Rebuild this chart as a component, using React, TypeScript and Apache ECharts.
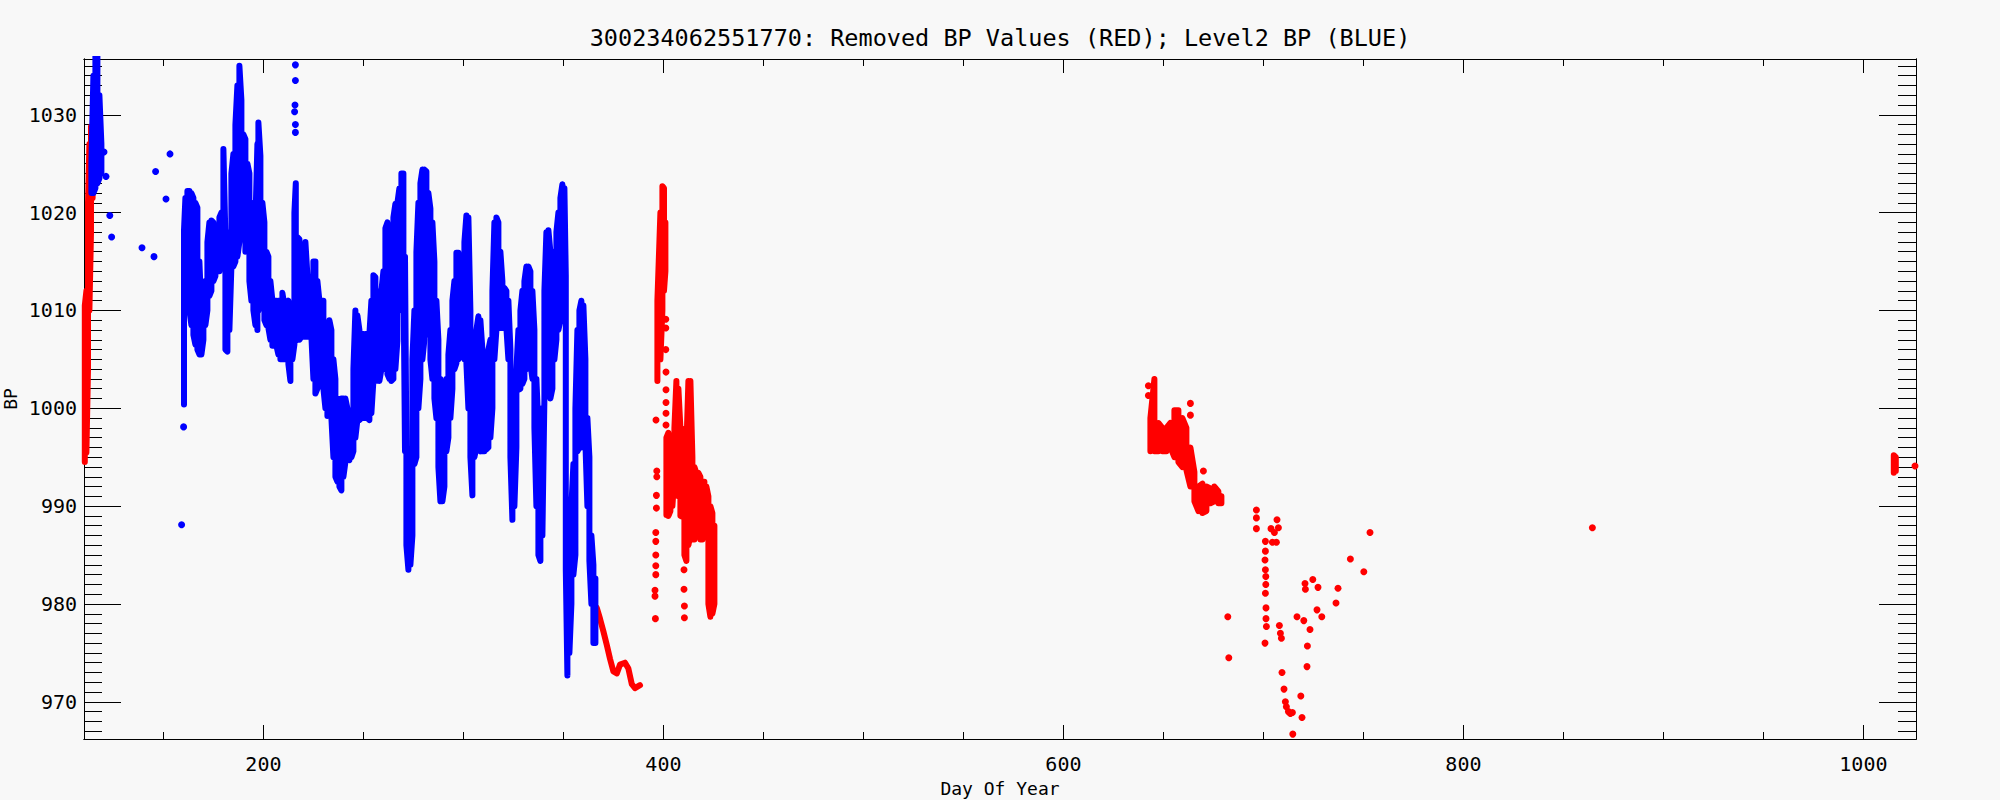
import React, { useEffect, useRef } from "react";
import * as echarts from "echarts";

// ---------- axis ranges & ticks ----------
const X_MIN = 110.3;
const X_MAX = 1026.3;
const Y_MIN = 966.2;
const Y_MAX = 1035.7;
const xMajorTicks = [200, 400, 600, 800, 1000];
const xMinorTicks = [150, 200, 250, 300, 350, 400, 450, 500, 550, 600, 650, 700, 750, 800, 850, 900, 950, 1000];
const yMajorTicks = [970, 980, 990, 1000, 1010, 1020, 1030];
const yMinorTicks = Array.from({ length: 69 }, (_, i) => 967 + i);

const TITLE = "300234062551770: Removed BP Values (RED); Level2 BP (BLUE)";
const X_NAME = "Day Of Year";
const Y_NAME = "BP";

// ---------- data: dense streaks as [day, low BP, high BP] columns ----------
const blueStreakA = [
  [114.0, 1022.0, 1025.0], [115.0, 1022.0, 1034.0], [116.0, 1022.5, 1036.5],
  [117.0, 1023.0, 1036.5], [118.0, 1023.5, 1032.0], [119.0, 1024.0, 1027.0],
];
const blueStreakB = [
  [160.3, 1000.4, 1018.2], [161.0, 1012, 1021.5], [162.0, 1011, 1022.2], [163.0, 1010, 1022.2],
  [164.0, 1008.5, 1022], [165.0, 1007.5, 1021.5], [166.0, 1006.5, 1021], [167.0, 1006, 1020.5],
  [168.0, 1005.5, 1015], [169.0, 1005.5, 1010], [170.0, 1007, 1011], [171.0, 1008.5, 1013],
  [172.0, 1010, 1017], [173.0, 1011.5, 1019], [174.0, 1012, 1019.2], [175.0, 1013, 1019],
  [176.0, 1013.5, 1018.5], [177.0, 1014, 1018], [178.0, 1014, 1019.5], [179.0, 1014.5, 1020],
  [180.0, 1015, 1026.5], [181.0, 1006, 1017.5], [182.0, 1005.8, 1017], [183.0, 1008, 1018],
  [184.0, 1014.5, 1024], [185.0, 1014.5, 1026], [186.0, 1015, 1029], [187.0, 1015.5, 1033],
  [188.0, 1017, 1035], [189.0, 1021, 1031.5], [190.0, 1020, 1028], [191.0, 1016, 1027.5],
  [192.0, 1017, 1025], [193.0, 1013, 1024], [194.0, 1011, 1021], [195.0, 1010, 1019],
  [196.0, 1008.5, 1019], [197.0, 1008, 1027],
];
const blueStreakC = [
  [197.5, 1010, 1029.2], [198.5, 1011, 1025.8], [199.5, 1011, 1021], [200.5, 1009, 1019],
  [201.5, 1008.5, 1016], [202.5, 1008.2, 1015.5], [203.5, 1007, 1013], [204.5, 1006.4, 1011],
  [205.5, 1006.4, 1011], [206.5, 1006.4, 1011], [207.5, 1005.5, 1011], [208.5, 1005, 1011],
  [209.5, 1005, 1011.8], [210.5, 1005, 1010.5], [211.5, 1005.5, 1010.5], [212.5, 1004.5, 1011],
  [213.5, 1002.8, 1010], [214.5, 1005, 1009], [215.5, 1006.5, 1020], [216.2, 1006.9, 1023],
  [217, 1007, 1017.5], [218, 1007, 1017.3], [219, 1007.3, 1015], [220, 1007.3, 1014],
  [221, 1007.3, 1017], [222, 1007.3, 1013.6], [223, 1007.3, 1013.5], [224, 1007.3, 1013],
  [225, 1003, 1015], [226, 1001.5, 1015], [227, 1002, 1013], [228, 1004.6, 1011],
  [229, 1004, 1011], [230, 1002, 1011], [231, 1000, 1008], [232, 999.2, 1007],
  [233, 1000, 1009], [234, 999, 1008], [235, 995, 1005], [236, 993, 1003],
  [237, 992.5, 1001], [238, 992, 1000], [239, 991.6, 1001], [240, 993, 1001],
  [241, 994.5, 1001], [242, 995, 1000], [243, 994.7, 999.5], [244, 995, 999],
  [245, 995.6, 1004], [246, 997, 1010], [247, 998.8, 1009.5], [248, 998.8, 1008],
  [249, 999, 1007.6], [250, 999, 1007.6], [251, 999, 1007.6], [252, 999, 1007.6],
  [253, 998.8, 1007.6], [254, 999.5, 1011], [255, 1002.8, 1013.6], [256, 1002.8, 1013.4],
  [257, 1003, 1012], [258, 1002.8, 1011.5], [259, 1004, 1012], [260, 1004.6, 1014],
  [261, 1004, 1018.4], [262, 1003.5, 1019], [263, 1003, 1018.5], [264, 1002.8, 1017.5],
  [265, 1003, 1019.5], [266, 1004, 1020.9], [267, 1006.9, 1021], [268, 1010, 1022.5],
  [269, 1013, 1024], [270, 1014.5, 1024], [270.8, 995.6, 1015.5], [271.5, 986, 996],
  [272.5, 983.5, 994], [273.5, 984, 993], [274.5, 987, 1005], [275.5, 994.3, 1010],
  [276.5, 995, 1016], [277.5, 1000, 1021], [278.5, 1003, 1023], [279.5, 1005, 1024.4],
  [280.5, 1007, 1024.4], [281.5, 1007.8, 1024.2],
];
const blueStreakD = [
  [282.5, 1007.5, 1022], [283.5, 1005, 1020.4], [284.5, 1003, 1019], [285.5, 1001, 1015],
  [286.5, 999, 1011], [287.5, 994, 1007], [288.5, 990.5, 1003], [289.5, 990.5, 1000],
  [290.5, 992, 998], [291.5, 995.6, 1003], [292.5, 997, 1005.5], [293.5, 999, 1008],
  [294.5, 1002, 1011], [295.5, 1004, 1013], [296.5, 1004.6, 1015.9], [297.5, 1005, 1015.9],
  [298.5, 1005.5, 1013], [299.5, 1005.5, 1012.7], [300.5, 1005, 1017], [301.5, 1004.6, 1019.7],
  [302.5, 1000, 1019.5], [303.5, 995, 1010], [304.5, 991.1, 1003], [305.5, 995, 1006],
  [306.5, 996, 1008], [307.5, 996, 1009.4], [308.5, 995.6, 1009], [309.5, 995.6, 1006],
  [310.5, 995.6, 1004], [311.5, 995.8, 1005], [312.5, 996, 1006], [313.5, 997, 1007],
  [314.5, 1000, 1012], [315.5, 1005, 1019], [316.5, 1008, 1019.5], [317.5, 1008.2, 1019],
  [318.5, 1008.2, 1016], [319.5, 1008.2, 1013], [320.5, 1008.2, 1012.3], [321.5, 1008.2, 1012],
  [322.5, 1005, 1011], [323.5, 995, 1006], [324.5, 988.6, 1002], [325.5, 990, 1002],
  [326.5, 996, 1004], [327.5, 1001.9, 1008], [328.5, 1002, 1010], [329.5, 1002.5, 1012],
  [330.5, 1003, 1013], [331.5, 1004, 1014.5], [332.5, 1004.6, 1014.5], [333.5, 1004.6, 1014],
  [334.5, 1003, 1012], [335.5, 998, 1008], [336.5, 990, 1003], [337.5, 985, 998],
  [338.5, 984.4, 995], [339.5, 987, 1000], [340.5, 1001, 1012], [341.5, 1002, 1018],
  [342.5, 1002, 1018.2], [343.5, 1001, 1016], [344.5, 1002, 1012], [345.5, 1005, 1016],
  [346.5, 1007, 1018], [347.5, 1008, 1020], [348.5, 1009, 1021.5], [349.5, 1009.1, 1022.9],
  [350.5, 1009.1, 1022.5], [351.2, 983.5, 1013.6], [352, 972.7, 986.6], [353, 975, 986],
  [354, 980, 990], [355, 983, 994.3], [356, 985, 1000], [357, 995.6, 1008],
  [358, 996, 1010], [359, 996, 1011], [360, 998, 1010.5], [361, 996.5, 1005],
  [362, 990, 999], [363, 984.4, 995], [364, 980, 987], [365, 976, 984], [366, 976, 982.6],
];
const blueDots = [
  [120.3, 1026.2], [121.3, 1023.7], [123.2, 1019.7], [124.1, 1017.5], [139.3, 1016.4],
  [145.3, 1015.5], [146.1, 1024.2], [151.3, 1021.4], [153.3, 1026.0], [159.1, 988.1], [160.1, 998.1],
  [216.0, 1035.1], [216.0, 1033.5], [215.8, 1031.0], [215.6, 1030.3], [216.0, 1029.0], [216.0, 1028.2],
];

const redStreakA = [
  [110.7, 994.5, 1010.5], [111.5, 995.5, 1012], [112.3, 1004, 1021],
  [113.0, 1010, 1027], [113.8, 1018, 1028.8], [114.6, 1021.5, 1028.5],
];
const redTrace = [
  [366.7, 979.6], [368.3, 978.5], [370, 977.2], [371.7, 975.8], [373.3, 974.4], [375, 973.1],
  [376.7, 972.9], [378.3, 973.8], [380.8, 974], [382.5, 973.4], [384.2, 971.8], [385.8, 971.4], [388.3, 971.7],
];
const redSpike = [
  [397, 1002.8, 1011], [398.5, 1005, 1020], [399.5, 1010, 1022.7], [400.3, 1012, 1022.5], [401, 1014, 1019],
];
const redBlob = [
  [401.5, 989.1, 997], [402.5, 989, 997.5], [403.5, 989.5, 996.5], [404.5, 990, 997],
  [405.5, 993, 998], [406.5, 991.1, 1002.8], [407.5, 991, 1002], [408.5, 989, 998],
  [409.5, 988.9, 997.9], [410.5, 985, 997], [411.5, 984.4, 996], [412.5, 986, 1002.8],
  [413.5, 987, 1002.8], [414.5, 986.6, 995], [415.5, 986.6, 994], [416.5, 987, 993.4],
  [417.5, 987, 993.4], [418.5, 986.6, 993], [419.5, 986.6, 992.5], [420.5, 987, 992.5],
  [421.5, 988, 992], [422.5, 980, 991], [423.5, 978.7, 990], [424.5, 979, 989.3], [425.5, 980, 988],
];
const redSpikeDots = [
  [396.3, 998.8], [396.7, 993.6], [396.7, 993], [396.5, 991.1], [396.5, 989.8], [396.2, 987.3],
  [396.2, 986.4], [396.2, 985], [396.2, 983.9], [396.2, 983], [395.8, 981.4], [395.8, 980.8], [396.0, 978.5],
  [401.2, 1009.1], [401.2, 1008.2], [401.2, 1006], [401.3, 1003.7], [401.3, 1001.9], [401.3, 1000.6],
  [401.3, 999.5], [401.3, 998.3], [410.3, 983.5], [410.3, 981.5], [410.5, 979.8], [410.5, 978.6],
];
const redCluster = [
  [643.5, 995.6, 999], [645.5, 995.6, 1003], [647.5, 995.6, 998.5], [649.5, 995.6, 998],
  [651.5, 995.6, 998], [653.5, 996, 998.5], [655.5, 995, 999.8], [657.5, 994.5, 999.8],
  [659.5, 994, 999], [661.5, 993.7, 998], [663.5, 992, 996], [665.5, 990.5, 993.5],
  [667.5, 989.5, 992], [669.5, 989.3, 992.3], [671.5, 989.5, 992], [673.5, 990.3, 991.8],
  [675.5, 990.5, 992], [677.5, 990.3, 991.5], [679, 990.3, 991],
];
const redFar = [
  [1015.2, 993.4, 995.2], [1016.2, 993.6, 995.0],
];
const redDots = [
  [642.5, 1002.3], [642.5, 1001.3], [663.5, 1000.5], [663.5, 999.3], [670, 993.6],
  [682.2, 978.7], [682.7, 974.5], [696.5, 989.6], [696.5, 988.8], [696.5, 987.7],
  [701, 986.4], [701, 985.4], [700.8, 984.5], [701, 983.5], [701.2, 982.8], [701.2, 982],
  [701, 981.1], [701.3, 979.6], [701.3, 978.5], [701.5, 977.7],
  [700.8, 976], [703.8, 987.7], [704.5, 986.3], [706.5, 986.3], [706.8, 988.6], [707.5, 987.8],
  [705.5, 987.3], [708, 977.8], [708.5, 977], [709, 976.5], [709.3, 973], [710.3, 971.3],
  [711, 970], [711.5, 969.5], [712.5, 969], [713.5, 968.8], [714.5, 968.9], [714.7, 966.7],
  [716.8, 978.7], [718.7, 970.6], [719.3, 968.4], [720.2, 978.3], [720.8, 982.1], [721, 981.5],
  [721.8, 973.6], [722, 975.7], [723.3, 977.4], [724.7, 982.5], [727.3, 981.7], [726.8, 979.4],
  [729.2, 978.7], [736.3, 980.1], [737.3, 981.6], [743.5, 984.6], [750.2, 983.3], [753.3, 987.3],
  [864.5, 987.8], [1025.8, 994.1],
];

const BLUE = "#0000ff";
const RED = "#ff0000";
const FONT = "DejaVu Sans Mono";

function zigzag(cols: number[][]) {
  const out: number[][] = [];
  cols.forEach(([x, lo, hi], i) => {
    if (i % 2 === 0) out.push([x, lo], [x, hi]);
    else out.push([x, hi], [x, lo]);
  });
  return out;
}

function streak(cols: number[][], color: string) {
  return {
    type: "line",
    data: zigzag(cols),
    showSymbol: false,
    symbol: "none",
    lineStyle: { color, width: 6, cap: "round", join: "round", opacity: 1 },
    clip: true,
    silent: true,
  };
}
function trace(pts: number[][], color: string) {
  return {
    type: "line",
    data: pts,
    showSymbol: false,
    symbol: "none",
    lineStyle: { color, width: 6, cap: "round", join: "round", opacity: 1 },
    clip: true,
    silent: true,
  };
}
function dots(pts: number[][], color: string) {
  return {
    type: "scatter",
    data: pts,
    symbol: "circle",
    symbolSize: 7,
    itemStyle: { color, opacity: 1 },
    clip: true,
    silent: true,
  };
}

const black = "#000000";
const plain = (v: number) => String(v);

function xAx(position: string, ticks: number[], len: number, labels: boolean) {
  return {
    type: "value",
    position,
    min: X_MIN,
    max: X_MAX,
    axisLine: { show: true, onZero: false, lineStyle: { color: black, width: 1 } },
    axisTick: { show: true, inside: true, length: len, customValues: ticks, lineStyle: { color: black, width: 1 } },
    axisLabel: labels
      ? { show: true, customValues: xMajorTicks, formatter: plain, margin: 15, fontFamily: FONT, fontSize: 20, color: black }
      : { show: false },
    splitLine: { show: false },
  };
}
function yAx(position: string, ticks: number[], len: number, labels: boolean) {
  return {
    type: "value",
    position,
    min: Y_MIN,
    max: Y_MAX,
    axisLine: { show: true, onZero: false, lineStyle: { color: black, width: 1 } },
    axisTick: { show: true, inside: true, length: len, customValues: ticks, lineStyle: { color: black, width: 1 } },
    axisLabel: labels
      ? { show: true, customValues: yMajorTicks, formatter: plain, margin: 7, fontFamily: FONT, fontSize: 20, color: black }
      : { show: false },
    splitLine: { show: false },
  };
}

export default function App() {
  const ref = useRef<HTMLDivElement>(null);
  useEffect(() => {
    if (!ref.current) return;
    const chart = echarts.init(ref.current, null, { renderer: "svg" });
    chart.setOption({
      animation: false,
      backgroundColor: "#f8f8f8",
      grid: { left: 84, top: 59, width: 1832, height: 680, containLabel: false },
      xAxis: [
        xAx("bottom", xMajorTicks, 14, true),
        xAx("bottom", xMinorTicks, 7, false),
        xAx("top", xMajorTicks, 14, false),
        xAx("top", xMinorTicks, 7, false),
      ],
      yAxis: [
        yAx("left", yMajorTicks, 37, true),
        yAx("left", yMinorTicks, 18, false),
        yAx("right", yMajorTicks, 37, false),
        yAx("right", yMinorTicks, 18, false),
      ],
      graphic: [
        { type: "text", x: 1000, y: 38, style: { text: TITLE, fontFamily: FONT, fontSize: 23.5, fill: black, align: "center", verticalAlign: "middle" } },
        { type: "text", x: 1000, y: 788, style: { text: X_NAME, fontFamily: FONT, fontSize: 18, fill: black, align: "center", verticalAlign: "middle" } },
        { type: "text", x: 10, y: 399, rotation: Math.PI / 2, style: { text: Y_NAME, fontFamily: FONT, fontSize: 18, fill: black, align: "center", verticalAlign: "middle" } },
      ],
      series: [
        streak(redStreakA, RED),
        trace(redTrace, RED),
        streak(redSpike, RED),
        streak(redBlob, RED),
        dots(redSpikeDots, RED),
        streak(redCluster, RED),
        streak(redFar, RED),
        dots(redDots, RED),
        streak(blueStreakA, BLUE),
        streak(blueStreakB, BLUE),
        streak(blueStreakC, BLUE),
        streak(blueStreakD, BLUE),
        dots(blueDots, BLUE),
      ],
    });
    return () => chart.dispose();
  }, []);
  return <div ref={ref} style={{ position: "absolute", left: 0, top: 0, width: 2000, height: 800 }} />;
}
